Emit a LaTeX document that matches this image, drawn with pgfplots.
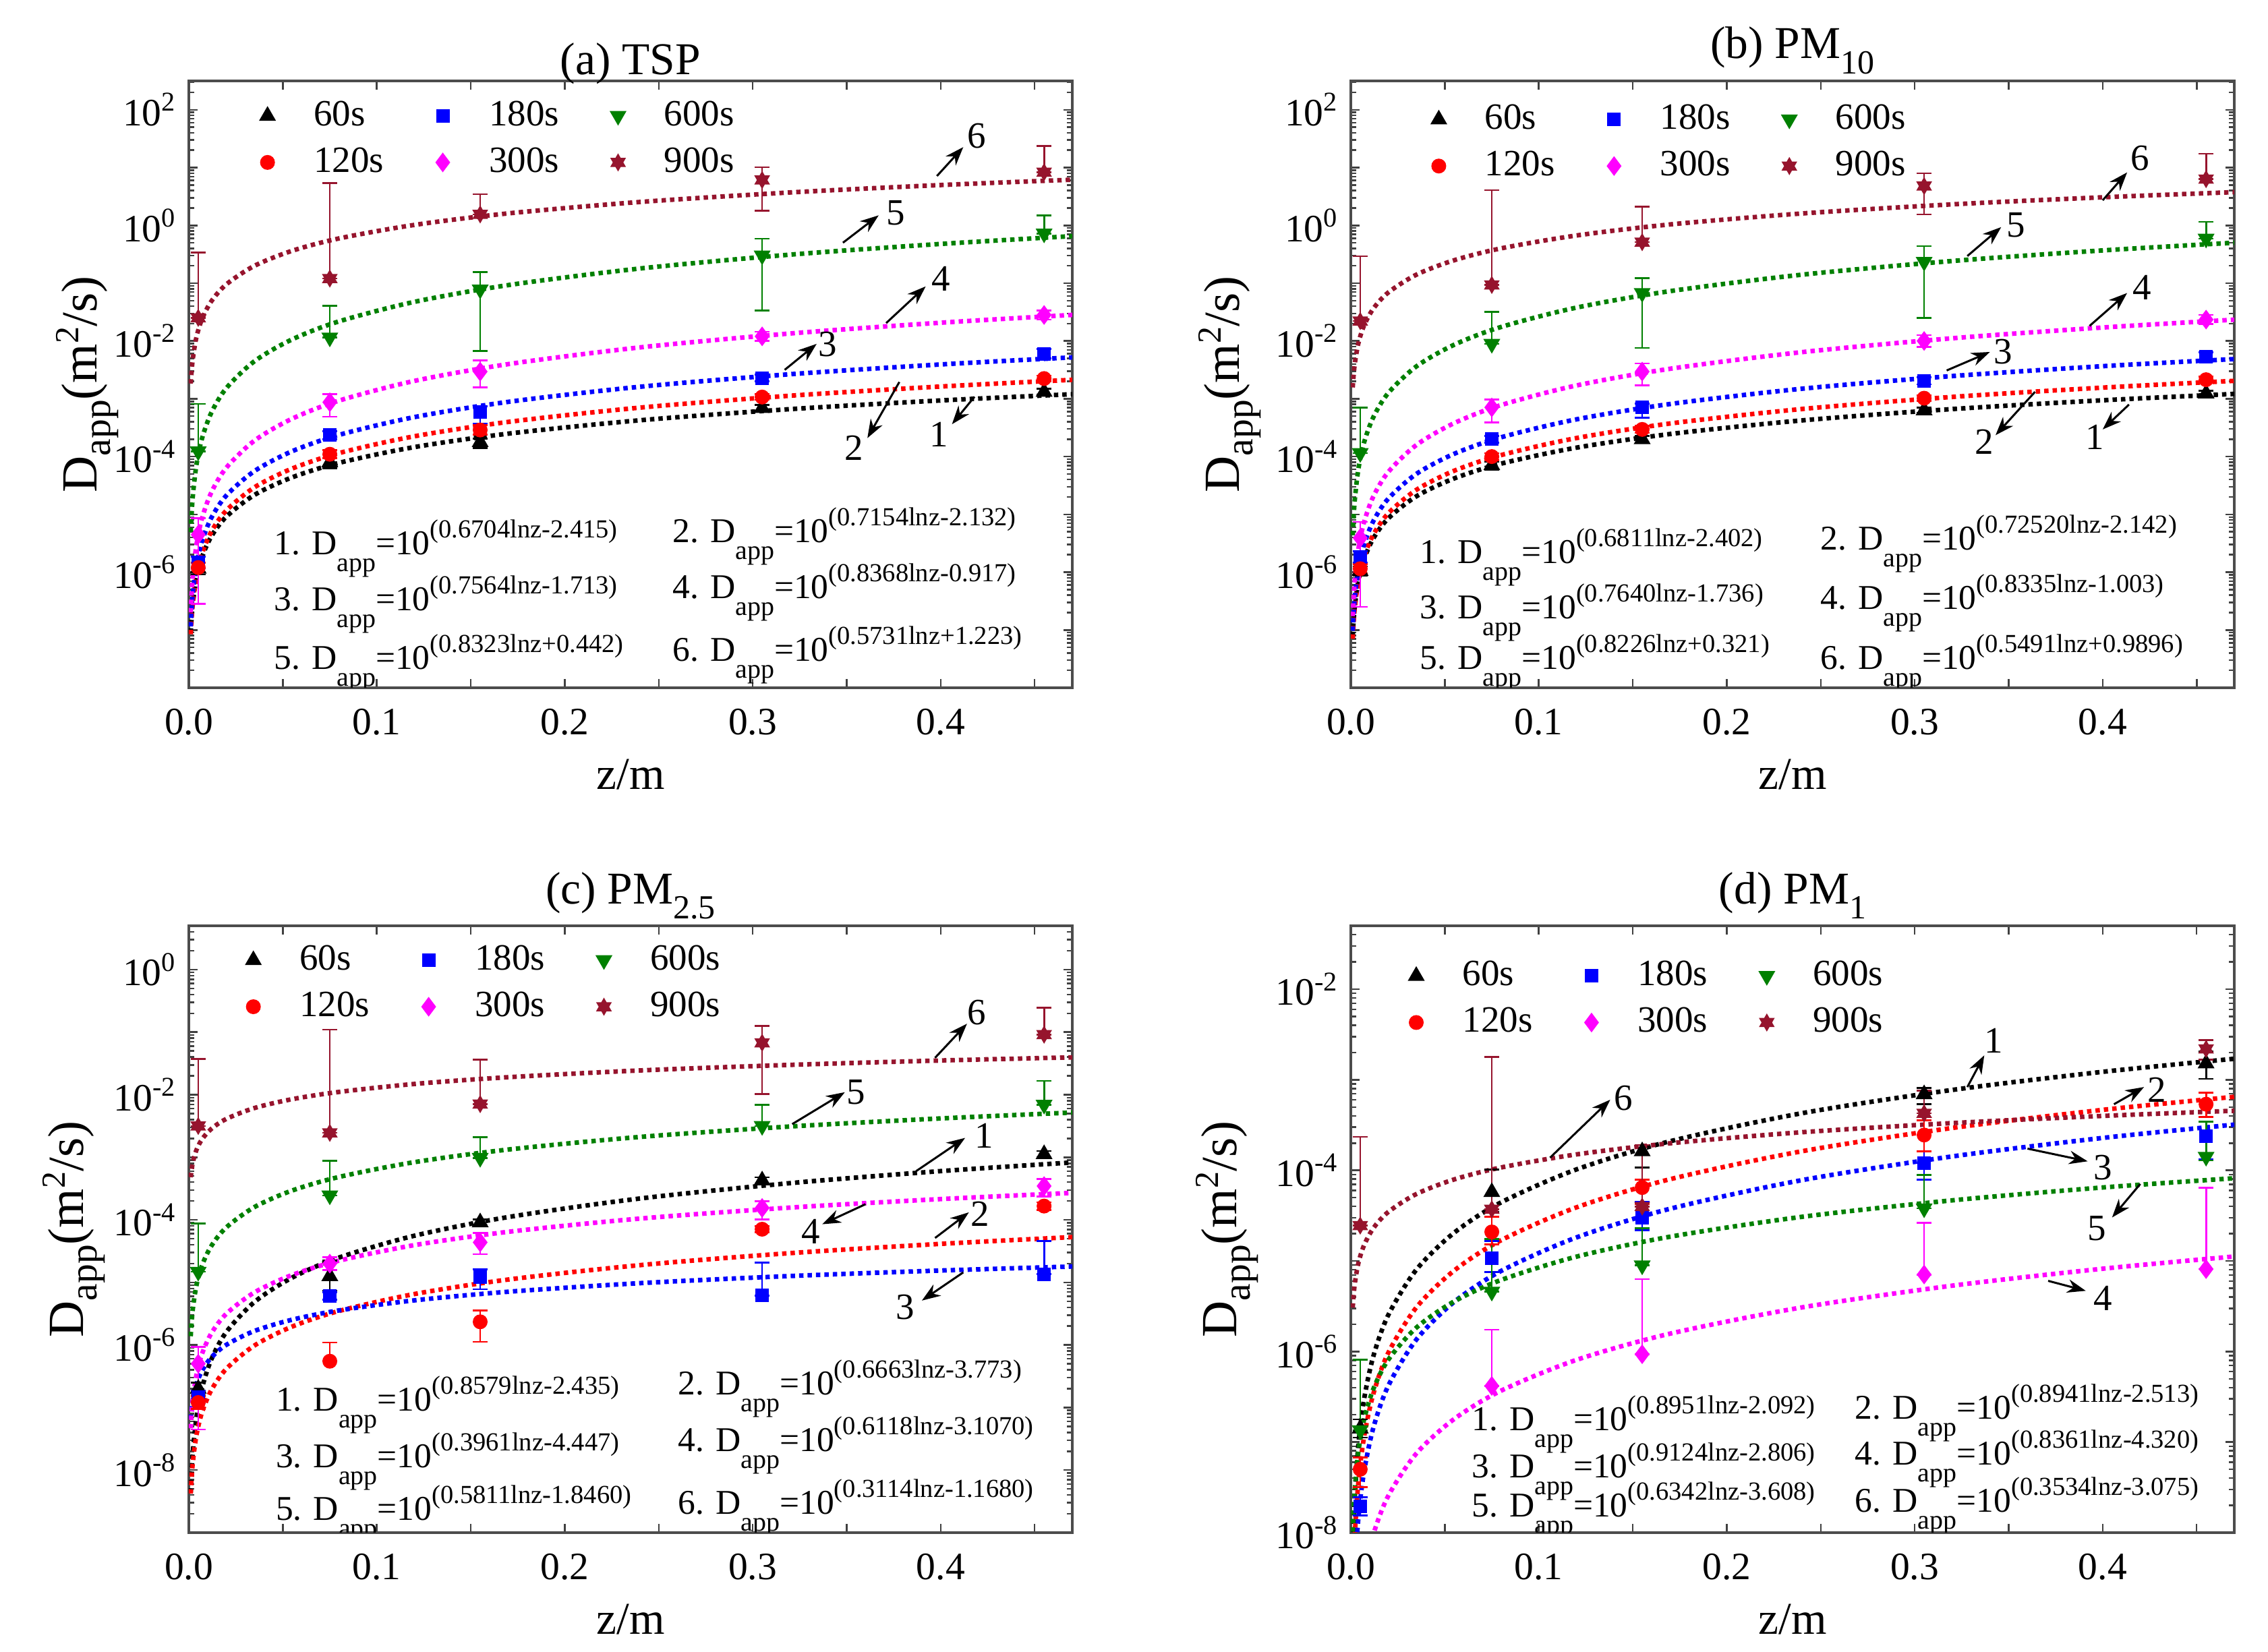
\documentclass[border=0pt]{standalone}
\usepackage{fontspec}
\setmainfont{Liberation Serif}
\setsansfont{Liberation Serif}
\usepackage{graphicx}
\usepackage{pgfplots}
\pgfplotsset{compat=1.18}
\usepackage{pgfplotstable}
\usetikzlibrary{arrows.meta}

\definecolor{dgreen}{RGB}{0,128,0}
\definecolor{dbrown}{RGB}{150,20,45}
\definecolor{mag}{RGB}{255,0,255}
\definecolor{rd}{RGB}{255,0,0}
\definecolor{bl}{RGB}{0,0,255}

\newcommand{\tickfont}{\rmfamily\fontsize{11.5}{13}\selectfont}
\newcommand{\eqfont}{\rmfamily\fontsize{10.3}{11}\selectfont}
\newcommand{\eqn}[2]{#1. D\raisebox{-5pt}{\fontsize{8}{9}\selectfont app}=10\raisebox{5pt}{\fontsize{7.7}{9}\selectfont (#2)}}
\newcommand{\ylab}{D\raisebox{-4pt}{\fontsize{11.5}{12}\selectfont app}(m\raisebox{5.5pt}{\fontsize{10}{10}\selectfont 2}/s)}
\newcommand{\sub}[1]{\raisebox{-4.5pt}{\fontsize{10}{11}\selectfont #1}}
\newcommand{\e}[1]{10\textsuperscript{#1}}

\pgfdeclareplotmark{hexstar}{%
  \pgfpathmoveto{\pgfqpointpolar{90}{\pgfplotmarksize}}%
  \pgfpathlineto{\pgfqpointpolar{210}{\pgfplotmarksize}}%
  \pgfpathlineto{\pgfqpointpolar{330}{\pgfplotmarksize}}%
  \pgfpathclose
  \pgfpathmoveto{\pgfqpointpolar{270}{\pgfplotmarksize}}%
  \pgfpathlineto{\pgfqpointpolar{30}{\pgfplotmarksize}}%
  \pgfpathlineto{\pgfqpointpolar{150}{\pgfplotmarksize}}%
  \pgfpathclose
  \pgfusepathqfillstroke}

% minor log ticks (positions log10(m) within each decade)
\def\minorlist{-20}
\foreach \k in {-11,...,2}{%
  \foreach \m in {0.30103,0.47712,0.60206,0.69897,0.77815,0.84510,0.90309,0.95424}{%
    \pgfmathsetmacro\v{\k+\m}%
    \xdef\minorlist{\minorlist,\v}}}

\tikzset{
  arr/.style={-{Stealth[length=5.5pt,width=4pt]}, line width=0.6pt, black},
  lab/.style={font=\rmfamily\fontsize{11}{12}\selectfont, inner sep=0pt},
  eqs/.style={font=\eqfont, anchor=base west, inner sep=0pt},
}

\pgfplotsset{
  panel/.style={
    scale only axis, width=262pt, height=180pt,
    xmin=0, xmax=0.47,
    xtick={0,0.05,0.1,0.15,0.2,0.25,0.3,0.35,0.4,0.45},
    xticklabels={0.0,,0.1,,0.2,,0.3,,0.4,},
    minor ytick/.expanded={\minorlist},
    tick align=inside,
    major tick length=2.6pt, minor tick length=1.5pt,
    tick style={black!75, line width=0.5pt},
    axis line style={black!70, line width=0.7pt},
    xticklabel style={font=\tickfont, anchor=base, yshift=-14pt},
    yticklabel style={font=\tickfont},
    xlabel={z/m}, ylabel={\ylab},
    xlabel style={font=\rmfamily\fontsize{13.5}{15}\selectfont, at={(axis description cs:0.5,-0.167)}, anchor=base},
    ylabel style={font=\rmfamily\fontsize{15}{16}\selectfont, anchor=center},
    title style={font=\rmfamily\fontsize{13.5}{15}\selectfont, at={(0.5,1)}, anchor=base, yshift=-4.2pt},
    legend columns=3, legend cell align=left,
    legend style={draw=none, fill=none, inner sep=0pt, font=\rmfamily\fontsize{11}{12}\selectfont,
      anchor=north west, row sep=5pt, nodes={inner sep=0pt},
      /tikz/every even column/.append style={column sep=14.8pt}},
  },
  subtitle/.style={title style={yshift=4.8pt}},
  fitc/.style={smooth, tension=0.5, line width=1.35pt, dash pattern=on 1.3pt off 1.2pt, forget plot, mark=none},
  eb/.style={error bars/y dir=both, error bars/y explicit,
    error bars/error bar style={line width=0.55pt, solid},
    error bars/error mark options={rotate=90, mark size=2.2pt, line width=0.55pt}},
  limg/.style={legend image code/.code={\draw[##1] plot coordinates {(0pt,0pt)}; \path (-2.5pt,0pt) (13.5pt,0pt);}},
  m60/.style={black, only marks, mark=triangle*, mark size=2.5pt, eb, limg},
  m120/.style={rd, only marks, mark=*, mark size=2pt, eb, limg},
  m180/.style={bl, only marks, mark=square*, mark size=1.8pt, eb, limg},
  m300/.style={mag, only marks, mark=diamond*, mark size=2.6pt, eb, limg},
  m600/.style={dgreen, only marks, mark=triangle*, mark size=2.5pt, mark options={rotate=180}, eb, limg},
  m900/.style={dbrown, only marks, mark=hexstar, mark size=2.3pt, eb, limg},
}

% fitted curves, log10(D_app) at z
\pgfplotstableread{
z c1 c2 c3 c4 c5 c6
0.001 -7.046 -7.074 -6.938 -6.697 -5.307 -2.736
0.002 -6.581 -6.578 -6.414 -6.117 -4.730 -2.339
0.004 -6.117 -6.082 -5.889 -5.537 -4.154 -1.941
0.007 -5.741 -5.682 -5.466 -5.069 -3.688 -1.621
0.012 -5.380 -5.296 -5.058 -4.618 -3.239 -1.312
0.02  -5.038 -4.931 -4.672 -4.191 -2.814 -1.019
0.035 -4.662 -4.530 -4.249 -3.722 -2.348 -0.698
0.055 -4.359 -4.207 -3.907 -3.344 -1.972 -0.439
0.08  -4.108 -3.939 -3.624 -3.031 -1.660 -0.225
0.12  -3.836 -3.649 -3.317 -2.691 -1.323 0.008
0.17  -3.603 -3.400 -3.053 -2.400 -1.033 0.208
0.24  -3.372 -3.153 -2.792 -2.111 -0.746 0.405
0.32  -3.179 -2.947 -2.575 -1.870 -0.506 0.570
0.4   -3.029 -2.788 -2.406 -1.684 -0.321 0.698
0.47  -2.921 -2.672 -2.284 -1.549 -0.186 0.790
}\fitA
\pgfplotstableread{
z c1 c2 c3 c4 c5 c6
0.001 -7.107 -7.152 -7.014 -6.761 -5.361 -2.804
0.002 -6.635 -6.649 -6.484 -6.183 -4.791 -2.423
0.004 -6.163 -6.146 -5.954 -5.605 -4.221 -2.042
0.007 -5.782 -5.740 -5.527 -5.139 -3.761 -1.735
0.012 -5.414 -5.349 -5.115 -4.689 -3.317 -1.439
0.02  -5.067 -4.979 -4.725 -4.264 -2.897 -1.159
0.035 -4.685 -4.573 -4.297 -3.797 -2.437 -0.851
0.055 -4.378 -4.245 -3.952 -3.421 -2.065 -0.603
0.08  -4.122 -3.974 -3.666 -3.108 -1.757 -0.397
0.12  -3.846 -3.680 -3.356 -2.770 -1.423 -0.175
0.17  -3.609 -3.427 -3.090 -2.480 -1.137 0.017
0.24  -3.374 -3.177 -2.826 -2.193 -0.853 0.206
0.32  -3.178 -2.968 -2.607 -1.953 -0.616 0.364
0.4   -3.026 -2.807 -2.436 -1.767 -0.433 0.486
0.47  -2.916 -2.690 -2.313 -1.632 -0.300 0.575
}\fitB
\pgfplotstableread{
z c1 c2 c3 c4 c5 c6
0.001 -8.361 -8.376 -7.183 -7.333 -5.860 -3.319
0.002 -7.767 -7.914 -6.909 -6.909 -5.457 -3.103
0.004 -7.172 -7.452 -6.634 -6.485 -5.055 -2.887
0.007 -6.692 -7.079 -6.412 -6.143 -4.729 -2.713
0.012 -6.229 -6.720 -6.199 -5.813 -4.416 -2.545
0.02  -5.791 -6.380 -5.997 -5.500 -4.119 -2.386
0.035 -5.311 -6.007 -5.775 -5.158 -3.794 -2.212
0.055 -4.923 -5.706 -5.596 -4.881 -3.531 -2.071
0.08  -4.602 -5.456 -5.447 -4.652 -3.314 -1.955
0.12  -4.254 -5.186 -5.287 -4.404 -3.078 -1.828
0.17  -3.955 -4.954 -5.149 -4.191 -2.876 -1.720
0.24  -3.659 -4.724 -5.012 -3.980 -2.675 -1.612
0.32  -3.413 -4.532 -4.898 -3.804 -2.508 -1.523
0.4   -3.221 -4.384 -4.810 -3.668 -2.379 -1.453
0.47  -3.083 -4.276 -4.746 -3.569 -2.285 -1.403
}\fitC
\pgfplotstableread{
z c1 c2 c3 c4 c5 c6
0.001 -8.275 -8.689 -9.109 -10.096 -7.989 -5.516
0.002 -7.655 -8.069 -8.476 -9.516 -7.549 -5.271
0.004 -7.034 -7.450 -7.844 -8.937 -7.110 -5.026
0.007 -6.533 -6.949 -7.333 -8.469 -6.755 -4.829
0.012 -6.051 -6.467 -6.841 -8.018 -6.413 -4.638
0.02  -5.594 -6.011 -6.375 -7.591 -6.089 -4.458
0.035 -5.093 -5.510 -5.865 -7.123 -5.734 -4.260
0.055 -4.688 -5.106 -5.452 -6.745 -5.447 -4.100
0.08  -4.353 -4.771 -5.110 -6.432 -5.210 -3.968
0.12  -3.990 -4.409 -4.741 -6.093 -4.953 -3.824
0.17  -3.678 -4.097 -4.423 -5.802 -4.732 -3.701
0.24  -3.369 -3.789 -4.108 -5.513 -4.513 -3.579
0.32  -3.112 -3.532 -3.846 -5.273 -4.331 -3.478
0.4   -2.912 -3.332 -3.642 -5.086 -4.189 -3.399
0.47  -2.768 -3.188 -3.495 -4.951 -4.087 -3.342
}\fitD

\begin{document}
\begin{tikzpicture}
\path[use as bounding box] (0,0) rectangle (672.6pt,490pt);

% ---------------- (a) TSP ----------------
\begin{axis}[panel, at={(56pt,286pt)}, anchor=south west,
  ymin=-8, ymax=2.5, ytick={-8,...,2},
  yticklabels={,,\e{-6},,\e{-4},,\e{-2},,\e{0},,\e{2}},
  title={(a) TSP},
  ylabel style={at={(axis description cs:-0.115,0.5)}},
  legend style={at={(0.078,0.968)}}]
\addplot[fitc, black] table[x=z,y=c1]{\fitA};
\addplot[fitc, rd] table[x=z,y=c2]{\fitA};
\addplot[fitc, bl] table[x=z,y=c3]{\fitA};
\addplot[fitc, mag] table[x=z,y=c4]{\fitA};
\addplot[fitc, dgreen] table[x=z,y=c5]{\fitA};
\addplot[fitc, dbrown] table[x=z,y=c6]{\fitA};
\addplot[m60] coordinates {(0.005,-5.94) += (0,0.1) -= (0,0.1) (0.075,-4.10) += (0,0.07) -= (0,0.1) (0.155,-3.75) += (0,0.06) -= (0,0.1) (0.305,-3.16) += (0,0.05) -= (0,0.05) (0.455,-2.88) += (0,0.05) -= (0,0.05)};
\addlegendentry{60s}
\addplot[m180] coordinates {(0.005,-5.83) += (0,0.1) -= (0,0.1) (0.075,-3.63) += (0,0.07) -= (0,0.07) (0.155,-3.23) += (0,0.1) -= (0,0.2) (0.305,-2.64) += (0,0.06) -= (0,0.06) (0.455,-2.22) += (0,0.08) -= (0,0.08)};
\addlegendentry{180s}
\addplot[m600] coordinates {(0.005,-3.91) += (0,0.82) -= (0,0) (0.075,-1.94) += (0,0.55) -= (0,0) (0.155,-1.11) += (0,0.30) -= (0,1.06) (0.305,-0.52) += (0,0.29) -= (0,0.95) (0.455,-0.14) += (0,0.31) -= (0,0)};
\addlegendentry{600s}
\addplot[m120] coordinates {(0.005,-5.92) += (0,0.08) -= (0,0.08) (0.075,-3.96) += (0,0.07) -= (0,0.07) (0.155,-3.54) += (0,0.08) -= (0,0.08) (0.305,-2.97) += (0,0.05) -= (0,0.05) (0.455,-2.65) += (0,0.05) -= (0,0.05)};
\addlegendentry{120s}
\addplot[m300] coordinates {(0.005,-5.35) += (0,0.28) -= (0,1.2) (0.075,-3.06) += (0,0.14) -= (0,0.25) (0.155,-2.53) += (0,0.19) -= (0,0.27) (0.305,-1.92) += (0,0.08) -= (0,0.08) (0.455,-1.55) += (0,0.08) -= (0,0.08)};
\addlegendentry{300s}
\addplot[m900] coordinates {(0.005,-1.60) += (0,1.13) -= (0,0) (0.075,-0.92) += (0,1.65) -= (0,0) (0.155,0.19) += (0,0.35) -= (0,0) (0.305,0.785) += (0,0.22) -= (0,0.53) (0.455,0.92) += (0,0.45) -= (0,0)};
\addlegendentry{900s}
\draw[arr] (axis cs:0.398,0.854) -- (axis cs:0.412,1.354); \node[lab] at (axis cs:0.419,1.55) {6};
\draw[arr] (axis cs:0.348,-0.30) -- (axis cs:0.367,0.174); \node[lab] at (axis cs:0.376,0.22) {5};
\draw[arr] (axis cs:0.371,-1.69) -- (axis cs:0.392,-1.056); \node[lab] at (axis cs:0.400,-0.92) {4};
\draw[arr] (axis cs:0.317,-2.5) -- (axis cs:0.334,-2.05); \node[lab] at (axis cs:0.340,-2.06) {3};
\draw[arr] (axis cs:0.378,-2.71) -- (axis cs:0.361,-3.68); \node[lab] at (axis cs:0.354,-3.85) {2};
\draw[arr] (axis cs:0.418,-2.965) -- (axis cs:0.406,-3.44); \node[lab] at (axis cs:0.399,-3.62) {1};
\node[eqs] at (axis cs:0.045,-5.70) {\eqn{1}{0.6704lnz-2.415}};
\node[eqs] at (axis cs:0.045,-6.67) {\eqn{3}{0.7564lnz-1.713}};
\node[eqs] at (axis cs:0.045,-7.68) {\eqn{5}{0.8323lnz+0.442}};
\node[eqs] at (axis cs:0.257,-5.49) {\eqn{2}{0.7154lnz-2.132}};
\node[eqs] at (axis cs:0.257,-6.46) {\eqn{4}{0.8368lnz-0.917}};
\node[eqs] at (axis cs:0.257,-7.54) {\eqn{6}{0.5731lnz+1.223}};
\end{axis}

% ---------------- (b) PM10 ----------------
\begin{axis}[panel, subtitle, at={(400.6pt,286pt)}, anchor=south west,
  ymin=-8, ymax=2.5, ytick={-8,...,2},
  yticklabels={,,\e{-6},,\e{-4},,\e{-2},,\e{0},,\e{2}},
  title={(b) PM\sub{10}},
  ylabel style={at={(axis description cs:-0.137,0.5)}},
  legend style={at={(0.0885,0.962)}}]
\addplot[fitc, black] table[x=z,y=c1]{\fitB};
\addplot[fitc, rd] table[x=z,y=c2]{\fitB};
\addplot[fitc, bl] table[x=z,y=c3]{\fitB};
\addplot[fitc, mag] table[x=z,y=c4]{\fitB};
\addplot[fitc, dgreen] table[x=z,y=c5]{\fitB};
\addplot[fitc, dbrown] table[x=z,y=c6]{\fitB};
\addplot[m60] coordinates {(0.005,-5.98) += (0,0.08) -= (0,0.08) (0.075,-4.15) += (0,0.06) -= (0,0.08) (0.155,-3.70) += (0,0.06) -= (0,0.06) (0.305,-3.20) += (0,0.05) -= (0,0.05) (0.455,-2.91) += (0,0.05) -= (0,0.05)};
\addlegendentry{60s}
\addplot[m180] coordinates {(0.005,-5.74) += (0,0.1) -= (0,0.1) (0.075,-3.70) += (0,0.06) -= (0,0.06) (0.155,-3.15) += (0,0.07) -= (0,0.18) (0.305,-2.69) += (0,0.06) -= (0,0.06) (0.455,-2.27) += (0,0.07) -= (0,0.07)};
\addlegendentry{180s}
\addplot[m600] coordinates {(0.005,-3.94) += (0,0.79) -= (0,0) (0.075,-2.05) += (0,0.55) -= (0,0) (0.155,-1.17) += (0,0.26) -= (0,0.95) (0.305,-0.63) += (0,0.27) -= (0,0.97) (0.455,-0.23) += (0,0.29) -= (0,0)};
\addlegendentry{600s}
\addplot[m120] coordinates {(0.005,-5.94) += (0,0.08) -= (0,0.08) (0.075,-4.00) += (0,0.06) -= (0,0.06) (0.155,-3.53) += (0,0.06) -= (0,0.06) (0.305,-2.99) += (0,0.05) -= (0,0.05) (0.455,-2.67) += (0,0.05) -= (0,0.05)};
\addlegendentry{120s}
\addplot[m300] coordinates {(0.005,-5.41) += (0,0.28) -= (0,1.19) (0.075,-3.15) += (0,0.14) -= (0,0.26) (0.155,-2.53) += (0,0.14) -= (0,0.24) (0.305,-2.00) += (0,0.1) -= (0,0.1) (0.455,-1.63) += (0,0.08) -= (0,0.08)};
\addlegendentry{300s}
\addplot[m900] coordinates {(0.005,-1.655) += (0,1.12) -= (0,0) (0.075,-1.03) += (0,1.64) -= (0,0) (0.155,-0.29) += (0,0.61) -= (0,0) (0.305,0.68) += (0,0.22) -= (0,0.49) (0.455,0.80) += (0,0.44) -= (0,0)};
\addlegendentry{900s}
\draw[arr] (axis cs:0.400,0.434) -- (axis cs:0.413,0.917); \node[lab] at (axis cs:0.420,1.16) {6};
\draw[arr] (axis cs:0.328,-0.53) -- (axis cs:0.346,-0.03); \node[lab] at (axis cs:0.354,0.0) {5};
\draw[arr] (axis cs:0.393,-1.74) -- (axis cs:0.413,-1.17); \node[lab] at (axis cs:0.421,-1.08) {4};
\draw[arr] (axis cs:0.317,-2.51) -- (axis cs:0.340,-2.19); \node[lab] at (axis cs:0.347,-2.19) {3};
\draw[arr] (axis cs:0.364,-2.88) -- (axis cs:0.343,-3.63); \node[lab] at (axis cs:0.337,-3.75) {2};
\draw[arr] (axis cs:0.414,-3.10) -- (axis cs:0.400,-3.53); \node[lab] at (axis cs:0.396,-3.66) {1};
\node[eqs] at (axis cs:0.0365,-5.85) {\eqn{1}{0.6811lnz-2.402}};
\node[eqs] at (axis cs:0.0365,-6.81) {\eqn{3}{0.7640lnz-1.736}};
\node[eqs] at (axis cs:0.0365,-7.68) {\eqn{5}{0.8226lnz+0.321}};
\node[eqs] at (axis cs:0.2495,-5.61) {\eqn{2}{0.72520lnz-2.142}};
\node[eqs] at (axis cs:0.2495,-6.64) {\eqn{4}{0.8335lnz-1.003}};
\node[eqs] at (axis cs:0.2495,-7.68) {\eqn{6}{0.5491lnz+0.9896}};
\end{axis}

% ---------------- (c) PM2.5 ----------------
\begin{axis}[panel, subtitle, at={(56pt,35.4pt)}, anchor=south west,
  ymin=-9, ymax=0.7, ytick={-9,...,0},
  yticklabels={,\e{-8},,\e{-6},,\e{-4},,\e{-2},,\e{0}},
  title={(c) PM\sub{2.5}},
  ylabel style={at={(axis description cs:-0.13,0.5)}},
  legend style={at={(0.062,0.969)}}]
\addplot[fitc, black] table[x=z,y=c1]{\fitC};
\addplot[fitc, rd] table[x=z,y=c2]{\fitC};
\addplot[fitc, bl] table[x=z,y=c3]{\fitC};
\addplot[fitc, mag] table[x=z,y=c4]{\fitC};
\addplot[fitc, dgreen] table[x=z,y=c5]{\fitC};
\addplot[fitc, dbrown] table[x=z,y=c6]{\fitC};
\addplot[m60] coordinates {(0.005,-6.70) += (0,0.1) -= (0,0.1) (0.075,-4.90) += (0,0.25) -= (0,0.23) (0.155,-4.04) += (0,0.05) -= (0,0.05) (0.305,-3.37) += (0,0.05) -= (0,0.05) (0.455,-2.95) += (0,0.05) -= (0,0.05)};
\addlegendentry{60s}
\addplot[m180] coordinates {(0.005,-6.83) += (0,0.1) -= (0,0.1) (0.075,-5.22) += (0,0.06) -= (0,0.06) (0.155,-4.92) += (0,0.13) -= (0,0.19) (0.305,-5.21) += (0,0.53) -= (0,0) (0.455,-4.87) += (0,0.53) -= (0,0)};
\addlegendentry{180s}
\addplot[m600] coordinates {(0.005,-4.83) += (0,0.77) -= (0,0) (0.075,-3.61) += (0,0.55) -= (0,0) (0.155,-3.01) += (0,0.33) -= (0,0) (0.305,-2.50) += (0,0.34) -= (0,0) (0.455,-2.16) += (0,0.38) -= (0,0)};
\addlegendentry{600s}
\addplot[m120] coordinates {(0.005,-6.92) += (0,0.1) -= (0,0.1) (0.075,-6.26) += (0,0.30) -= (0,0) (0.155,-5.63) += (0,0.18) -= (0,0.32) (0.305,-4.15) += (0,0.05) -= (0,0.05) (0.455,-3.78) += (0,0.06) -= (0,0.06)};
\addlegendentry{120s}
\addplot[m300] coordinates {(0.005,-6.30) += (0,0.27) -= (0,1.05) (0.075,-4.70) += (0,0.1) -= (0,0.1) (0.155,-4.36) += (0,0.15) -= (0,0.19) (0.305,-3.81) += (0,0.11) -= (0,0.18) (0.455,-3.46) += (0,0.11) -= (0,0.17)};
\addlegendentry{300s}
\addplot[m900] coordinates {(0.005,-2.50) += (0,1.07) -= (0,0) (0.075,-2.61) += (0,1.65) -= (0,0) (0.155,-2.15) += (0,0.71) -= (0,0) (0.305,-1.17) += (0,0.27) -= (0,0.82) (0.455,-1.04) += (0,0.43) -= (0,0)};
\addlegendentry{900s}
\draw[arr] (axis cs:0.397,-1.41) -- (axis cs:0.414,-0.865); \node[lab] at (axis cs:0.419,-0.69) {6};
\draw[arr] (axis cs:0.321,-2.47) -- (axis cs:0.349,-1.96); \node[lab] at (axis cs:0.355,-1.96) {5};
\draw[arr] (axis cs:0.387,-3.22) -- (axis cs:0.413,-2.69); \node[lab] at (axis cs:0.423,-2.66) {1};
\draw[arr] (axis cs:0.360,-3.75) -- (axis cs:0.337,-4.07); \node[lab] at (axis cs:0.331,-4.19) {4};
\draw[arr] (axis cs:0.397,-4.29) -- (axis cs:0.415,-3.88); \node[lab] at (axis cs:0.421,-3.91) {2};
\draw[arr] (axis cs:0.412,-4.84) -- (axis cs:0.390,-5.29); \node[lab] at (axis cs:0.381,-5.40) {3};
\node[eqs] at (axis cs:0.046,-7.06) {\eqn{1}{0.8579lnz-2.435}};
\node[eqs] at (axis cs:0.046,-7.96) {\eqn{3}{0.3961lnz-4.447}};
\node[eqs] at (axis cs:0.046,-8.80) {\eqn{5}{0.5811lnz-1.8460}};
\node[eqs] at (axis cs:0.260,-6.80) {\eqn{2}{0.6663lnz-3.773}};
\node[eqs] at (axis cs:0.260,-7.70) {\eqn{4}{0.6118lnz-3.1070}};
\node[eqs] at (axis cs:0.260,-8.70) {\eqn{6}{0.3114lnz-1.1680}};
\end{axis}

% ---------------- (d) PM1 ----------------
\begin{axis}[panel, subtitle, at={(400.6pt,35.4pt)}, anchor=south west,
  ymin=-8, ymax=-1.3, ytick={-8,...,-2},
  yticklabels={\e{-8},,\e{-6},,\e{-4},,\e{-2}},
  title={(d) PM\sub{1}},
  ylabel style={at={(axis description cs:-0.14,0.5)}},
  legend style={at={(0.063,0.943)}}]
\addplot[fitc, black] table[x=z,y=c1]{\fitD};
\addplot[fitc, rd] table[x=z,y=c2]{\fitD};
\addplot[fitc, bl] table[x=z,y=c3]{\fitD};
\addplot[fitc, mag] table[x=z,y=c4]{\fitD};
\addplot[fitc, dgreen] table[x=z,y=c5]{\fitD};
\addplot[fitc, dbrown] table[x=z,y=c6]{\fitD};
\addplot[m60] coordinates {(0.005,-6.85) += (0,0.1) -= (0,0.1) (0.075,-4.24) += (0,0.25) -= (0,0.22) (0.155,-3.79) += (0,0.07) -= (0,0.18) (0.305,-3.16) += (0,0.07) -= (0,0.11) (0.455,-2.82) += (0,0.13) -= (0,0.17)};
\addlegendentry{60s}
\addplot[m180] coordinates {(0.005,-7.71) += (0,0.1) -= (0,0.1) (0.075,-4.97) += (0,0.19) -= (0,0.15) (0.155,-4.52) += (0,0.17) -= (0,0.14) (0.305,-3.92) += (0,0.13) -= (0,0.18) (0.455,-3.62) += (0,0.16) -= (0,0.26)};
\addlegendentry{180s}
\addplot[m600] coordinates {(0.005,-6.87) += (0,0.78) -= (0,0) (0.075,-5.34) += (0,0.58) -= (0,0) (0.155,-5.05) += (0,0.41) -= (0,0) (0.305,-4.42) += (0,0.37) -= (0,0) (0.455,-3.85) += (0,0.39) -= (0,0.04)};
\addlegendentry{600s}
\addplot[m120] coordinates {(0.005,-7.30) += (0,0.13) -= (0,0.2) (0.075,-4.68) += (0,0.17) -= (0,0.14) (0.155,-4.19) += (0,0.09) -= (0,0.18) (0.305,-3.61) += (0,0.16) -= (0,0.18) (0.455,-3.27) += (0,0.13) -= (0,0.14)};
\addlegendentry{120s}
\addplot[m300] coordinates {(0.075,-6.38) += (0,0.62) -= (0,0) (0.155,-6.03) += (0,0.83) -= (0,0) (0.305,-5.15) += (0,0.57) -= (0,0) (0.455,-5.09) += (0,0.90) -= (0,0)};
\addlegendentry{300s}
\addplot[m900] coordinates {(0.005,-4.61) += (0,0.98) -= (0,0) (0.075,-4.43) += (0,1.68) -= (0,0) (0.155,-4.40) += (0,0.68) -= (0,0) (0.305,-3.37) += (0,0.25) -= (0,0) (0.455,-2.66) += (0,0.1) -= (0,0.12)};
\addlegendentry{900s}
\draw[arr] (axis cs:0.328,-3.08) -- (axis cs:0.337,-2.73); \node[lab] at (axis cs:0.342,-2.57) {1};
\draw[arr] (axis cs:0.406,-3.27) -- (axis cs:0.422,-3.08); \node[lab] at (axis cs:0.429,-3.11) {2};
\draw[arr] (axis cs:0.360,-3.76) -- (axis cs:0.392,-3.90); \node[lab] at (axis cs:0.400,-3.97) {3};
\draw[arr] (axis cs:0.420,-4.15) -- (axis cs:0.405,-4.52); \node[lab] at (axis cs:0.397,-4.64) {5};
\draw[arr] (axis cs:0.371,-5.22) -- (axis cs:0.391,-5.33); \node[lab] at (axis cs:0.400,-5.41) {4};
\draw[arr] (axis cs:0.106,-3.86) -- (axis cs:0.138,-3.22); \node[lab] at (axis cs:0.145,-3.20) {6};
\node[eqs] at (axis cs:0.064,-6.875) {\eqn{1}{0.8951lnz-2.092}};
\node[eqs] at (axis cs:0.064,-7.395) {\eqn{3}{0.9124lnz-2.806}};
\node[eqs] at (axis cs:0.064,-7.825) {\eqn{5}{0.6342lnz-3.608}};
\node[eqs] at (axis cs:0.268,-6.745) {\eqn{2}{0.8941lnz-2.513}};
\node[eqs] at (axis cs:0.268,-7.255) {\eqn{4}{0.8361lnz-4.320}};
\node[eqs] at (axis cs:0.268,-7.775) {\eqn{6}{0.3534lnz-3.075}};
\end{axis}
\end{tikzpicture}
\end{document}
